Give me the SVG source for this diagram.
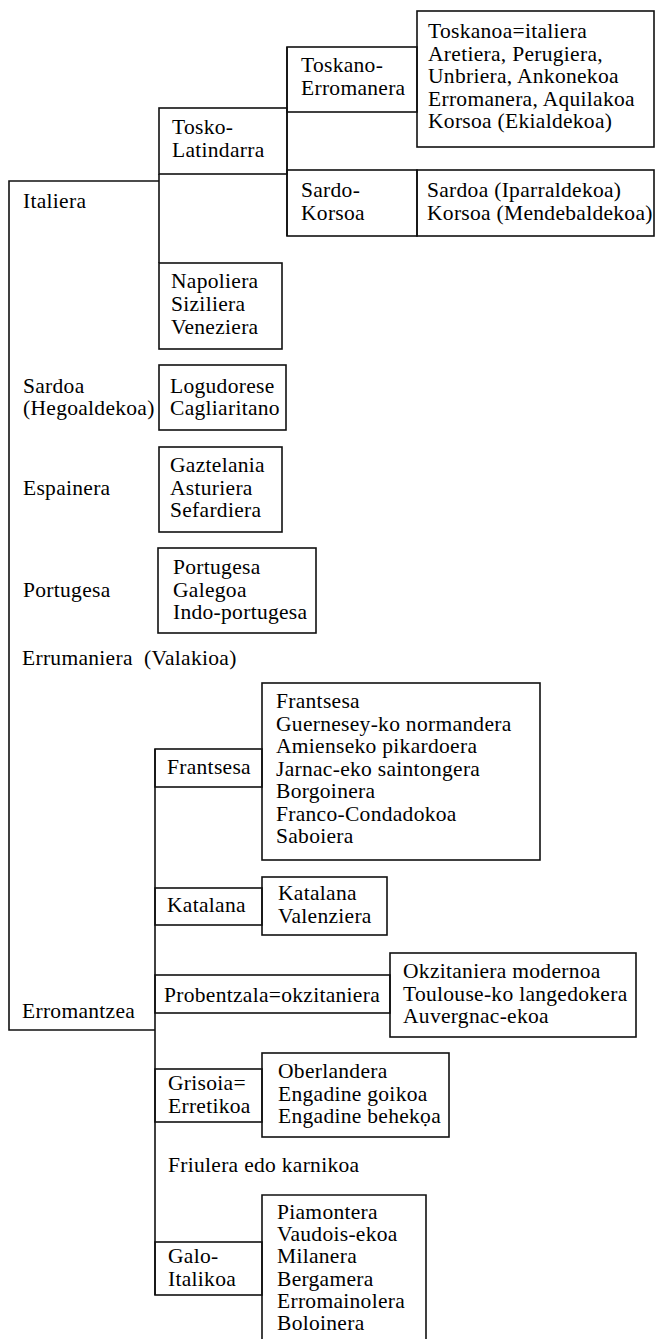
<svg xmlns="http://www.w3.org/2000/svg" width="655" height="1339" viewBox="0 0 655 1339">
<style>
text{font-family:"Liberation Serif","Times New Roman",serif;font-size:21.5px;letter-spacing:0.3px;fill:#000;white-space:pre}
.b{fill:none;stroke:#111;stroke-width:1.6}
.c{fill:none;stroke:#111;stroke-width:1.6}
</style>
<rect width="655" height="1339" fill="#fff"/>
<g id="connectors">
<path class="c" d="M159,181 H9 V1030 H155"/>
<path class="c" d="M159,174 V263"/>
<path class="c" d="M287,47 V236"/>
<path class="c" d="M155,749 V1295"/>
</g>
<g id="italiera"><text x="23" y="208">Italiera</text></g>
<g id="tosko-latindarra"><rect class="b" x="159" y="108" width="128" height="66"/><text x="172" y="134">Tosko-</text><text x="172" y="157">Latindarra</text></g>
<g id="toskano-erromanera"><rect class="b" x="287" y="47" width="130" height="65"/><text x="301" y="72">Toskano-</text><text x="301" y="95">Erromanera</text></g>
<g id="toskanoa"><rect class="b" x="417" y="11" width="237" height="136"/><text x="428" y="38">Toskanoa=italiera</text><text x="428" y="60.5">Aretiera, Perugiera,</text><text x="428" y="83">Unbriera, Ankonekoa</text><text x="428" y="105.5">Erromanera, Aquilakoa</text><text x="428" y="128">Korsoa (Ekialdekoa)</text></g>
<g id="sardo-korsoa"><rect class="b" x="287" y="170" width="130" height="66"/><text x="301" y="197">Sardo-</text><text x="301" y="219.5">Korsoa</text></g>
<g id="sardoa-ipar"><rect class="b" x="417" y="170" width="237" height="66"/><text x="427" y="197">Sardoa (Iparraldekoa)</text><text x="427" y="219.5">Korsoa (Mendebaldekoa)</text></g>
<g id="napoliera"><rect class="b" x="159" y="263" width="123" height="86"/><text x="171" y="288">Napoliera</text><text x="171" y="311">Siziliera</text><text x="171" y="334">Veneziera</text></g>
<g id="sardoa-hego"><text x="23" y="393">Sardoa</text><text x="23" y="415">(Hegoaldekoa)</text></g>
<g id="logudorese"><rect class="b" x="159" y="365" width="127" height="65"/><text x="170" y="393">Logudorese</text><text x="170" y="415">Cagliaritano</text></g>
<g id="espainera"><text x="23" y="495">Espainera</text></g>
<g id="gaztelania"><rect class="b" x="159" y="447" width="123" height="85"/><text x="170" y="472">Gaztelania</text><text x="170" y="494.5">Asturiera</text><text x="170" y="517">Sefardiera</text></g>
<g id="portugesa"><text x="23" y="597">Portugesa</text></g>
<g id="portugesa-list"><rect class="b" x="158" y="548" width="158" height="85"/><text x="173" y="574">Portugesa</text><text x="173" y="596.5">Galegoa</text><text x="173" y="619">Indo-portugesa</text></g>
<g id="errumaniera"><text x="22" y="665">Errumaniera  (Valakioa)</text></g>
<g id="frantsesa"><rect class="b" x="155" y="749" width="107" height="38"/><text x="167" y="774">Frantsesa</text></g>
<g id="frantsesa-list"><rect class="b" x="262" y="683" width="278" height="177"/><text x="276" y="708">Frantsesa</text><text x="276" y="730.5">Guernesey-ko normandera</text><text x="276" y="753">Amienseko pikardoera</text><text x="276" y="775.5">Jarnac-eko saintongera</text><text x="276" y="798">Borgoinera</text><text x="276" y="820.5">Franco-Condadokoa</text><text x="276" y="843">Saboiera</text></g>
<g id="katalana"><rect class="b" x="155" y="888" width="107" height="37"/><text x="167" y="912">Katalana</text></g>
<g id="katalana-list"><rect class="b" x="262" y="877" width="125" height="58"/><text x="278" y="900">Katalana</text><text x="278" y="923">Valenziera</text></g>
<g id="probentzala"><rect class="b" x="155" y="975" width="235" height="38"/><text x="164" y="1002">Probentzala=okzitaniera</text></g>
<g id="okzitaniera-list"><rect class="b" x="390" y="953" width="246" height="84"/><text x="403" y="978">Okzitaniera modernoa</text><text x="403" y="1000.5">Toulouse-ko langedokera</text><text x="403" y="1023">Auvergnac-ekoa</text></g>
<g id="erromantzea"><text x="22" y="1018">Erromantzea</text></g>
<g id="grisoia"><rect class="b" x="155" y="1069" width="107" height="53"/><text x="168" y="1090">Grisoia=</text><text x="168" y="1112.5">Erretikoa</text></g>
<g id="oberlandera-list"><rect class="b" x="262" y="1053" width="187" height="84"/><text x="278" y="1078">Oberlandera</text><text x="278" y="1100.5">Engadine goikoa</text><text x="278" y="1123">Engadine behekọa</text></g>
<g id="friulera"><text x="168" y="1172">Friulera edo karnikoa</text></g>
<g id="galo-italikoa"><rect class="b" x="155" y="1242" width="107" height="53"/><text x="168" y="1263">Galo-</text><text x="168" y="1285.5">Italikoa</text></g>
<g id="piamontera-list"><path class="b" d="M262,1341 V1195 H426 V1341"/><text x="277" y="1219">Piamontera</text><text x="277" y="1241.2">Vaudois-ekoa</text><text x="277" y="1263.4">Milanera</text><text x="277" y="1285.6">Bergamera</text><text x="277" y="1307.8">Erromainolera</text><text x="277" y="1330">Boloinera</text></g>
</svg>
